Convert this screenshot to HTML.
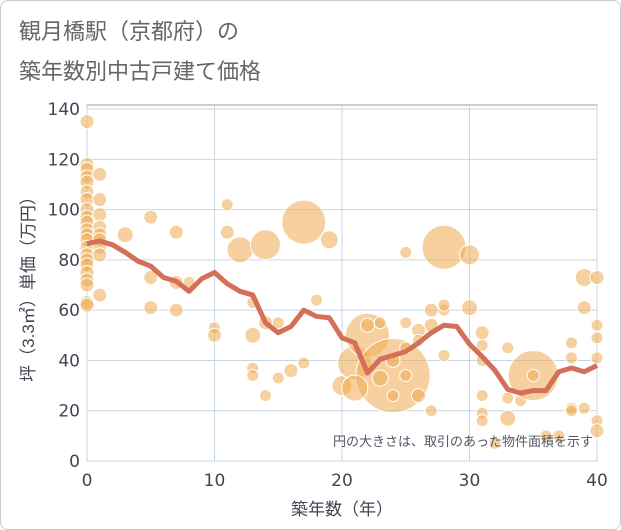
<!DOCTYPE html>
<html><head><meta charset="utf-8"><style>
body{margin:0;background:#fff;font-family:"Liberation Sans","Noto Sans CJK JP",sans-serif}
#wrap{position:relative;width:619px;height:528px;border:1px solid #ccc;border-radius:8px;overflow:hidden}
</style></head><body>
<div id="wrap">
<svg id="chart" width="621" height="530">
<text x="18" y="38" font-size="22" fill="#666">観月橋駅（京都府）の</text>
<text x="18" y="78" font-size="22" fill="#666">築年数別中古戸建て価格</text>
<g id="grid"></g><g id="bubbles"></g><g id="line"></g><g id="axes"></g>
<text x="592" y="445" font-size="13" fill="#556" text-anchor="end">円の大きさは、取引のあった物件面積を示す</text>
<text x="341" y="514" font-size="17" fill="#445" text-anchor="middle">築年数（年）</text>
<text transform="translate(33,284) rotate(-90)" font-size="17" fill="#445" text-anchor="middle">坪（3.3㎡）単価（万円）</text>
</svg></div>
<script>
const xTicks=[0,10,20,30,40];
const yTicks=[0,20,40,60,80,100,120,140];
const lineYears=[0,1,2,3,4,5,6,7,8,9,10,11,12,13,14,15,16,17,18,19,20,21,22,23,24,25,26,27,28,29,30,31,32,33,34,35,36,37,38,39,40];
const lineValues=[86.5,87.5,86,83,79.5,77.5,73,71.5,67.5,72.5,75,70.5,67.5,66,55,51,53.5,60,57.5,57,49,47,35,40.5,42,43.5,47,51,54,53.5,46.5,41.5,36,28.5,27,28,28,35.5,37,35.5,38];
const bubbleX=[0,0,0,0,0,0,0,0,0,0,0,0,0,0,0,0,0,0,0,0,0,0,1,1,1,1,1,1,1,1,1,3,5,5,5,7,7,7,8,10,10,11,11,12,13,13,13,13,14,14,14,15,15,16,17,17,18,19,20,21,22,24,21,22,23,23,24,25,25,25,26,26,24,26,25,27,27,27,28,28,28,28,30,30,31,31,31,31,31,31,32,33,33,33,34,35,35,36,38,38,38,38,39,39,39,40,40,40,40,40,40,37];
const bubbleY=[135,118,116,113,111,107,104,100,97,95,92,90,88,85,82,80,78,75,72,70,63,62,114,104,98,93,90,88,85,82,66,90,97,61,73,91,60,71,71,53,50,102,91,84,63,50,37,34,86,55,26,33,55,36,95,39,64,88,30,39,50,34,29,54,33,55,40,55,45,34,52,26,26,48,83,20,54,60,60,62,85,42,82,61,51,46,40,26,19,16,7,45,17,25,24,34,34,10,47,41,21,20,73,61,21,73,54,49,41,16,12,10];
const bubbleR=[7,7,7,7,7,7,7,7,7,7,7,7,7,7,7,7,7,7,7,7,7,7,7,7,7,7,7,7,7,7,7,8,7,7,7,7,7,7,6,6,7,6,7,13,6,8,6,6,15,7,6,6,6,7,22,6,6,9,10,17,22,37,13,7,8,6,7,6,6,6,7,7,6,6,6,6,7,7,6,6,22,6,10,8,7,6,6,6,6,6,6,6,8,6,6,25,6,6,6,6,6,6,9,7,6,7,6,6,6,6,7,6];
const X=v=>86+v*12.75, Y=v=>460-v*2.514;
const NS="http://www.w3.org/2000/svg";
function mk(p,t,a){const e=document.createElementNS(NS,t);for(const k in a)e.setAttribute(k,a[k]);document.getElementById(p).appendChild(e);return e;}
const gr=mk('grid','rect',{x:86,y:104,width:510,height:356,fill:'none',stroke:'#999'});


yTicks.forEach(t=>{const l=mk('grid','line',{x1:86,x2:596,y1:Y(t),y2:Y(t),stroke:'#c8d6e4'});


const tx=mk('axes','text',{x:79,y:Y(t)+6,'font-size':17,fill:'#445','text-anchor':'end','font-family':'DejaVu Sans, sans-serif'});tx.textContent=t;

});
xTicks.forEach(t=>{const l=mk('grid','line',{x1:X(t),x2:X(t),y1:104,y2:460,stroke:'#c8d6e4'});


const tx=mk('axes','text',{x:X(t),y:485,'font-size':17,fill:'#445','text-anchor':'middle','font-family':'DejaVu Sans, sans-serif'});tx.textContent=t;

});
bubbleX.forEach((v,i)=>{const c=mk('bubbles','circle',{cx:X(v),cy:Y(bubbleY[i]),r:bubbleR[i],fill:'rgba(238,172,80,0.55)',stroke:'#fff','stroke-width':1});

});
const p=mk('line','polyline',{points:lineYears.map((v,i)=>X(v)+','+Y(lineValues[i])).join(' '),fill:'none',stroke:'#d4705a','stroke-width':5,'stroke-linejoin':'round'});


</script></body></html>
